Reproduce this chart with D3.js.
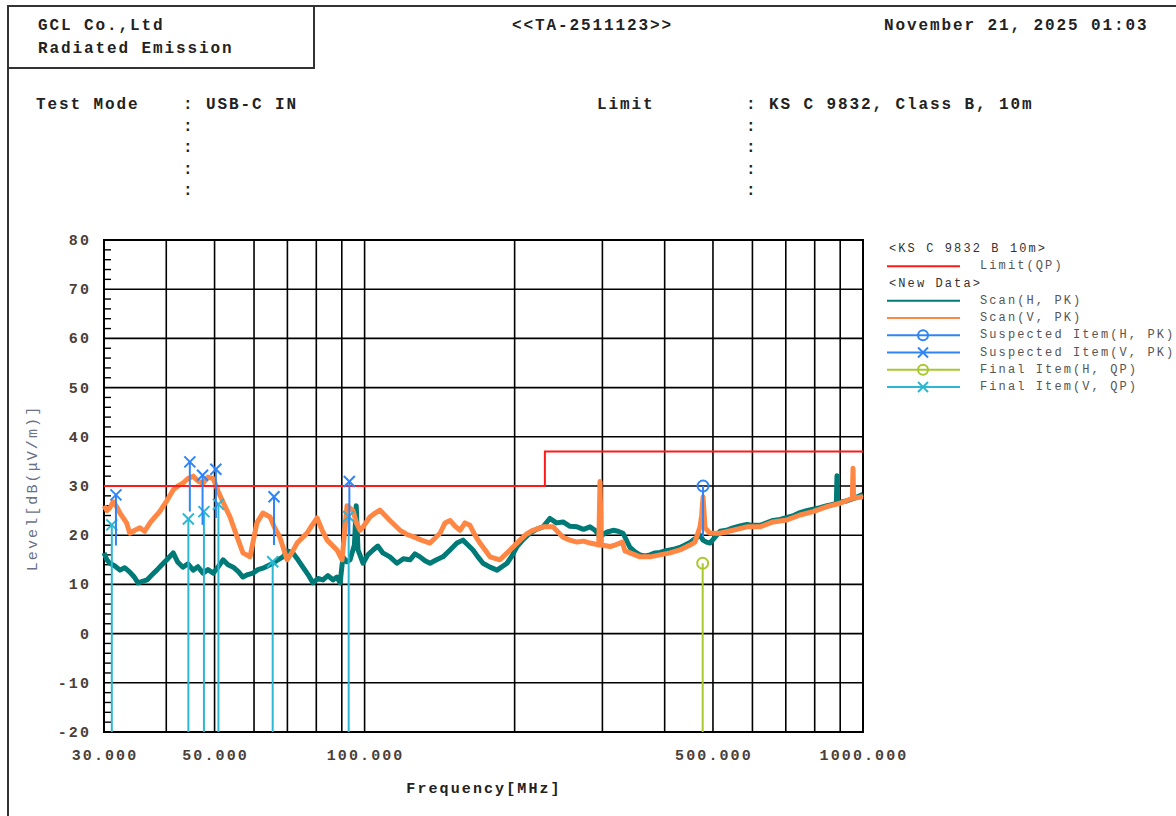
<!DOCTYPE html>
<html>
<head>
<meta charset="utf-8">
<script src="https://cdn.jsdelivr.net/npm/d3@7"></script>
<style>
  html, body { margin: 0; padding: 0; background: #fff; }
  svg { display: block; font-family: "Liberation Mono", "DejaVu Sans Mono", monospace; }
</style>
</head>
<body>
<svg id="chart" width="1176" height="816"></svg>
<script>
/* ── Radiated emission plot (KS C 9832 Class B, 10m) ── */

// Limit line (QP)
const limitFreq  = [30, 230, 230, 1000];
const limitLevel = [30, 30, 37, 37];

// Scan (H, PK) — teal trace
const scanHFreq = [30.0, 30.4, 30.8, 31.5, 32.3, 33.0, 33.8, 34.5, 35.1, 36.6, 37.5, 38.3, 39.2, 40.1, 41.3, 42.2,
  43.2, 44.2, 45.3, 46.3, 47.4, 48.5, 49.7, 50.8, 52.0, 53.2, 54.5, 55.8, 57.0, 58.3, 59.7, 61.1, 62.5, 64.0,
  65.5, 67.0, 68.6, 70.2, 71.8, 73.5, 75.2, 77.0, 78.8, 80.6, 82.5, 84.4, 86.4, 88.0, 89.3, 90.5, 92.0,
  93.5, 95.4, 96.2, 97.0, 99.3, 101.5, 104.0, 106.3, 108.8, 112.4, 116.1, 119.6, 123.3, 126.2, 129.2, 132.2,
  135.3, 139.4, 143.6, 148.4, 153.2, 157.5, 161.2, 165.0, 168.8, 172.8, 178.5, 184.4, 188.6, 193.1, 197.6,
  202.2, 208.4, 214.7, 221.2, 228.0, 235.5, 242.6, 250.1, 258.3, 266.8, 275.0, 283.3, 290.0, 296.7, 305.8,
  315.1, 322.5, 330.0, 340.8, 348.8, 356.9, 365.3, 373.8, 382.6, 391.4, 400.6, 409.9, 419.4, 429.3, 439.4,
  449.7, 460.2, 471.0, 477.6, 485.3, 493.2, 504.8, 516.6, 532.3, 548.4, 566.5, 585.0, 603.0, 621.3, 640.5,
  660.0, 682.0, 704.1, 725.8, 747.6, 770.6, 793.8, 820.0, 846.6, 865.0, 884.0, 886.8, 889.5, 910.0, 930.0,
  965.0, 1000];
const scanHLevel = [16.4, 15.0, 14.3, 13.8, 12.9, 13.4, 12.5, 11.5, 10.3, 10.9, 12.0, 12.9, 14.0, 15.0, 16.4, 14.5,
  13.5, 14.2, 12.9, 13.6, 12.3, 13.0, 12.3, 13.5, 15.0, 14.0, 13.5, 12.6, 11.5, 12.0, 12.3, 13.0, 13.3, 13.8,
  14.3, 15.0, 15.6, 16.8, 16.4, 15.0, 13.5, 12.0, 10.3, 11.2, 10.9, 11.8, 10.9, 11.5, 10.3, 15.6, 14.6,
  15.0, 18.0, 26.0, 17.0, 14.3, 16.0, 17.0, 17.8, 16.4, 15.6, 14.3, 15.2, 15.0, 16.2, 15.6, 14.8,
  14.3, 15.0, 15.6, 17.0, 18.4, 19.0, 18.0, 17.0, 15.6, 14.3, 13.5, 12.9, 13.6, 14.3, 15.8,
  17.7, 19.2, 20.4, 21.2, 21.7, 23.4, 22.5, 22.7, 21.8, 21.7, 21.2, 21.7, 21.0, 19.7, 20.6,
  21.0, 20.8, 20.4, 17.5, 16.6, 16.0, 15.8, 16.0, 16.4, 16.5, 16.8, 17.0, 17.2, 17.5, 18.0,
  18.5, 19.3, 20.0, 19.0, 18.6, 18.4, 19.6, 20.8, 21.0, 21.5, 21.9, 22.2, 22.0, 22.0, 22.5,
  23.0, 23.2, 23.6, 24.0, 24.6, 25.0, 25.3, 25.6, 26.0, 26.2, 26.5, 32.1, 26.5, 26.8, 27.0,
  27.6, 28.3];

// Scan (V, PK) — orange trace
const scanVFreq = [30.0, 30.4, 30.8, 31.3, 31.8, 32.3, 33.3, 33.8, 34.6, 35.4, 36.2, 37.1, 37.9, 38.8, 40.1, 41.3,
  42.2, 43.2, 44.2, 45.3, 46.3, 47.4, 48.5, 49.7, 50.8, 52.0, 53.7, 55.5, 57.0, 58.9, 60.8, 62.5, 64.6, 66.0,
  67.6, 69.9, 71.5, 73.2, 76.6, 78.4, 80.3, 82.2, 84.1, 88.0, 90.1, 92.2, 94.8, 96.3, 97.9, 99.3, 102.5,
  105.0, 107.3, 112.4, 117.8, 121.4, 125.1, 130.0, 135.3, 141.7, 145.0, 148.4, 152.0, 155.4, 159.0, 162.7,
  166.5, 170.4, 178.5, 186.9, 195.8, 205.0, 211.0, 217.7, 228.0, 238.8, 250.1, 258.0, 266.8, 275.0, 283.3,
  290.0, 295.0, 296.7, 298.5, 310.7, 318.0, 325.4, 329.0, 333.0, 340.8, 356.9, 373.8, 391.4, 409.9, 429.3,
  449.7, 460.0, 471.0, 474.5, 477.6, 482.0, 493.2, 516.6, 548.4, 585.0, 621.3, 660.0, 704.1, 747.6, 793.8,
  846.6, 899.1, 952.0, 954.9, 957.5, 1000];
const scanVLevel = [26.0, 25.0, 25.5, 26.8, 25.8, 24.5, 22.5, 20.4, 21.0, 21.5, 20.8, 22.5, 23.6, 24.8, 27.0, 29.2,
  30.0, 30.6, 31.5, 32.0, 31.0, 30.6, 31.8, 31.5, 29.0, 26.7, 23.7, 19.6, 16.4, 15.6, 22.5, 24.5, 23.7, 21.5,
  19.6, 15.0, 16.5, 18.4, 20.4, 22.0, 23.5, 21.0, 19.0, 17.0, 15.0, 26.0, 25.0, 22.5, 21.0, 21.7, 23.7,
  24.5, 25.1, 23.0, 21.0, 20.2, 19.7, 19.0, 18.4, 20.4, 22.5, 23.0, 21.8, 21.0, 22.5, 22.0,
  20.0, 18.4, 15.6, 15.0, 17.0, 19.0, 20.2, 21.0, 21.7, 21.7, 19.6, 19.0, 18.6, 18.8, 18.4,
  18.2, 18.0, 30.9, 18.0, 17.7, 18.0, 18.4, 18.6, 16.8, 16.4, 15.6, 15.6, 16.0, 16.4, 17.0,
  18.0, 18.6, 21.7, 24.0, 27.8, 21.5, 20.4, 20.4, 21.0, 21.7, 21.7, 22.7, 23.1, 24.1, 24.8,
  25.8, 26.5, 27.5, 33.6, 27.5, 27.8];

// Suspected items (PK) — level and foot of the drop line
const suspVFreq  = [31.7, 44.6, 47.3, 50.3, 65.8, 93.2];
const suspVLevel = [28.2, 34.9, 32.2, 33.4, 27.8, 30.9];
const suspVBase  = [17.9, 24.8, 22.1, 23.5, 18.0, 20.0];
const suspHFreq  = [477.6];
const suspHLevel = [30.0];
const suspHBase  = [19.7];

// Final items (QP)
const finalVFreq  = [31.1, 44.3, 47.6, 50.9, 65.4, 92.9];
const finalVLevel = [22.1, 23.3, 24.8, 26.3, 14.6, 23.8];
const finalHFreq  = [476.8];
const finalHLevel = [14.3];

// Axes
const xTickValues = [30, 50, 100, 500, 1000];
const xGridValues = [40, 50, 60, 70, 80, 90, 100, 200, 300, 400, 500, 600, 700, 800, 900];
const yTickValues = [-20, -10, 0, 10, 20, 30, 40, 50, 60, 70, 80];

const C = {
  red: '#ff1a1a', teal: '#007a76', orange: '#ff8743',
  blue: '#2f84f6', olive: '#a8c82c', cyan: '#2cb8d2', text: '#222'
};

const svg = d3.select('#chart');

// ── Page frame & header ──
svg.append('line').attr('x1', 8).attr('x2', 1176).attr('y1', 6).attr('y2', 6)
  .attr('stroke', '#333').attr('stroke-width', 2);
svg.append('line').attr('x1', 8).attr('x2', 8).attr('y1', 6).attr('y2', 816)
  .attr('stroke', '#333').attr('stroke-width', 2);
svg.append('rect').attr('x', 8).attr('y', 6).attr('width', 306).attr('height', 62)
  .attr('fill', 'none').attr('stroke', '#333').attr('stroke-width', 2);

function txt(x, y, s) {
  return svg.append('text')
    .attr('x', x).attr('y', y)
    .attr('font-size', 16)
    .attr('font-weight', 'bold')
    .attr('letter-spacing', 1.9)
    .attr('fill', C.text)
    .text(s);
}

txt(38, 30, 'GCL Co.,Ltd');
txt(38, 53, 'Radiated Emission');
txt(512, 30, '<<TA-2511123>>');
txt(884, 30, 'November 21, 2025 01:03');

txt(36, 109, 'Test Mode');
txt(183, 109, ': USB-C IN');
txt(597, 109, 'Limit');
txt(746, 109, ': KS C 9832, Class B, 10m');
[131, 152, 174, 195].forEach(yy => {
  txt(183, yy, ':');
  txt(746, yy, ':');
});

// ── Scales ──
const x = d3.scaleLog().domain([30, 1000]).range([104, 863]);
const y = d3.scaleLinear().domain([-20, 80]).range([732, 240]);

const plot = svg.append('g');

// Grid
plot.selectAll('.vgrid').data(xGridValues).join('line')
  .attr('x1', d => x(d)).attr('x2', d => x(d))
  .attr('y1', y(80)).attr('y2', y(-20))
  .attr('stroke', '#000').attr('stroke-width', 1.6);
plot.selectAll('.hgrid').data(yTickValues.filter(v => v > -20 && v < 80)).join('line')
  .attr('x1', x(30)).attr('x2', x(1000))
  .attr('y1', d => y(d)).attr('y2', d => y(d))
  .attr('stroke', '#000').attr('stroke-width', 1.6);

// Minor ticks on the level axis, every 2 dB
const minor = d3.range(-18, 80, 2).filter(v => v % 10 !== 0);
plot.selectAll('.minor').data(minor).join('line')
  .attr('x1', x(30)).attr('x2', x(30) + 7)
  .attr('y1', d => y(d)).attr('y2', d => y(d))
  .attr('stroke', '#000').attr('stroke-width', 1.4);

plot.append('rect')
  .attr('x', x(30)).attr('y', y(80))
  .attr('width', x(1000) - x(30)).attr('height', y(-20) - y(80))
  .attr('fill', 'none').attr('stroke', '#000').attr('stroke-width', 2);

// Tick labels
svg.selectAll('.ylab').data(yTickValues).join('text')
  .attr('x', 91).attr('y', d => y(d) + 5)
  .attr('text-anchor', 'end')
  .attr('font-size', 15).attr('letter-spacing', 2.1).attr('font-weight', 'bold')
  .attr('fill', '#4a4038')
  .text(d => d);
svg.selectAll('.xlab').data(xTickValues).join('text')
  .attr('x', d => x(d) + 1).attr('y', 760)
  .attr('text-anchor', 'middle')
  .attr('font-size', 15).attr('letter-spacing', 2.1).attr('font-weight', 'bold')
  .attr('fill', '#4a4038')
  .text(d => d3.format('.3f')(d));

svg.append('text')
  .attr('x', 484).attr('y', 793)
  .attr('text-anchor', 'middle')
  .attr('font-size', 15).attr('letter-spacing', 2.1).attr('font-weight', 'bold')
  .attr('fill', C.text)
  .text('Frequency[MHz]');
svg.append('text')
  .attr('transform', 'translate(37,488) rotate(-90)')
  .attr('text-anchor', 'middle')
  .attr('font-size', 15).attr('letter-spacing', 2.1)
  .attr('fill', '#6a7184')
  .text('Level[dB(μV/m)]');

// ── Traces ──
const line = d3.line().x(d => x(d[0])).y(d => y(d[1]));

plot.append('path')
  .datum(d3.zip(scanHFreq, scanHLevel))
  .attr('d', line)
  .attr('fill', 'none').attr('stroke', C.teal)
  .attr('stroke-width', 5).attr('stroke-linejoin', 'round');

plot.append('path')
  .datum(d3.zip(scanVFreq, scanVLevel))
  .attr('d', line)
  .attr('fill', 'none').attr('stroke', C.orange)
  .attr('stroke-width', 5).attr('stroke-linejoin', 'round');

plot.append('path')
  .datum(d3.zip(limitFreq, limitLevel))
  .attr('d', line)
  .attr('fill', 'none').attr('stroke', C.red)
  .attr('stroke-width', 2);

// ── Markers ──
function cross(g, cx, cy, color, s) {
  g.append('line').attr('x1', cx - s).attr('x2', cx + s).attr('y1', cy - s).attr('y2', cy + s)
    .attr('stroke', color).attr('stroke-width', 2);
  g.append('line').attr('x1', cx - s).attr('x2', cx + s).attr('y1', cy + s).attr('y2', cy - s)
    .attr('stroke', color).attr('stroke-width', 2);
}
function ring(g, cx, cy, color, r) {
  g.append('circle').attr('cx', cx).attr('cy', cy).attr('r', r)
    .attr('fill', 'none').attr('stroke', color).attr('stroke-width', 2);
}

const mk = svg.append('g');

// final items: drop lines to the bottom of the plot
finalVFreq.forEach((f, i) => {
  mk.append('line').attr('x1', x(f)).attr('x2', x(f))
    .attr('y1', y(finalVLevel[i])).attr('y2', y(-20))
    .attr('stroke', C.cyan).attr('stroke-width', 2);
  cross(mk, x(f), y(finalVLevel[i]), C.cyan, 5.5);
});
finalHFreq.forEach((f, i) => {
  mk.append('line').attr('x1', x(f)).attr('x2', x(f))
    .attr('y1', y(finalHLevel[i])).attr('y2', y(-20))
    .attr('stroke', C.olive).attr('stroke-width', 2);
  ring(mk, x(f), y(finalHLevel[i]), C.olive, 5.5);
});

// suspected items
suspVFreq.forEach((f, i) => {
  mk.append('line').attr('x1', x(f)).attr('x2', x(f))
    .attr('y1', y(suspVLevel[i])).attr('y2', y(suspVBase[i]))
    .attr('stroke', C.blue).attr('stroke-width', 2);
  cross(mk, x(f), y(suspVLevel[i]), C.blue, 5.5);
});
suspHFreq.forEach((f, i) => {
  mk.append('line').attr('x1', x(f)).attr('x2', x(f))
    .attr('y1', y(suspHLevel[i])).attr('y2', y(suspHBase[i]))
    .attr('stroke', C.blue).attr('stroke-width', 2);
  ring(mk, x(f), y(suspHLevel[i]), C.blue, 5.5);
});

// ── Legend ──
const legendItems = [
  { kind: 'head', label: '<KS C 9832 B 10m>' },
  { kind: 'line', label: 'Limit(QP)', color: C.red },
  { kind: 'head', label: '<New Data>' },
  { kind: 'line', label: 'Scan(H, PK)', color: C.teal },
  { kind: 'line', label: 'Scan(V, PK)', color: C.orange },
  { kind: 'ring', label: 'Suspected Item(H, PK)', color: C.blue },
  { kind: 'cross', label: 'Suspected Item(V, PK)', color: C.blue },
  { kind: 'ring', label: 'Final Item(H, QP)', color: C.olive },
  { kind: 'cross', label: 'Final Item(V, QP)', color: C.cyan }
];

const lg = svg.append('g');
legendItems.forEach((it, i) => {
  const cy = 248 + i * 17.25;
  if (it.kind === 'head') {
    lg.append('text').attr('x', 889).attr('y', cy + 4)
      .attr('font-size', 12).attr('letter-spacing', 2.1).attr('fill', '#333')
      .text(it.label);
    return;
  }
  lg.append('line').attr('x1', 887).attr('x2', 960).attr('y1', cy + 1).attr('y2', cy + 1)
    .attr('stroke', it.color).attr('stroke-width', 2);
  if (it.kind === 'ring') ring(lg, 923, cy + 1, it.color, 5);
  if (it.kind === 'cross') cross(lg, 923, cy + 1, it.color, 5);
  lg.append('text').attr('x', 980).attr('y', cy + 4)
    .attr('font-size', 12).attr('letter-spacing', 2.1).attr('fill', '#555')
    .text(it.label);
});
</script>
</body>
</html>
